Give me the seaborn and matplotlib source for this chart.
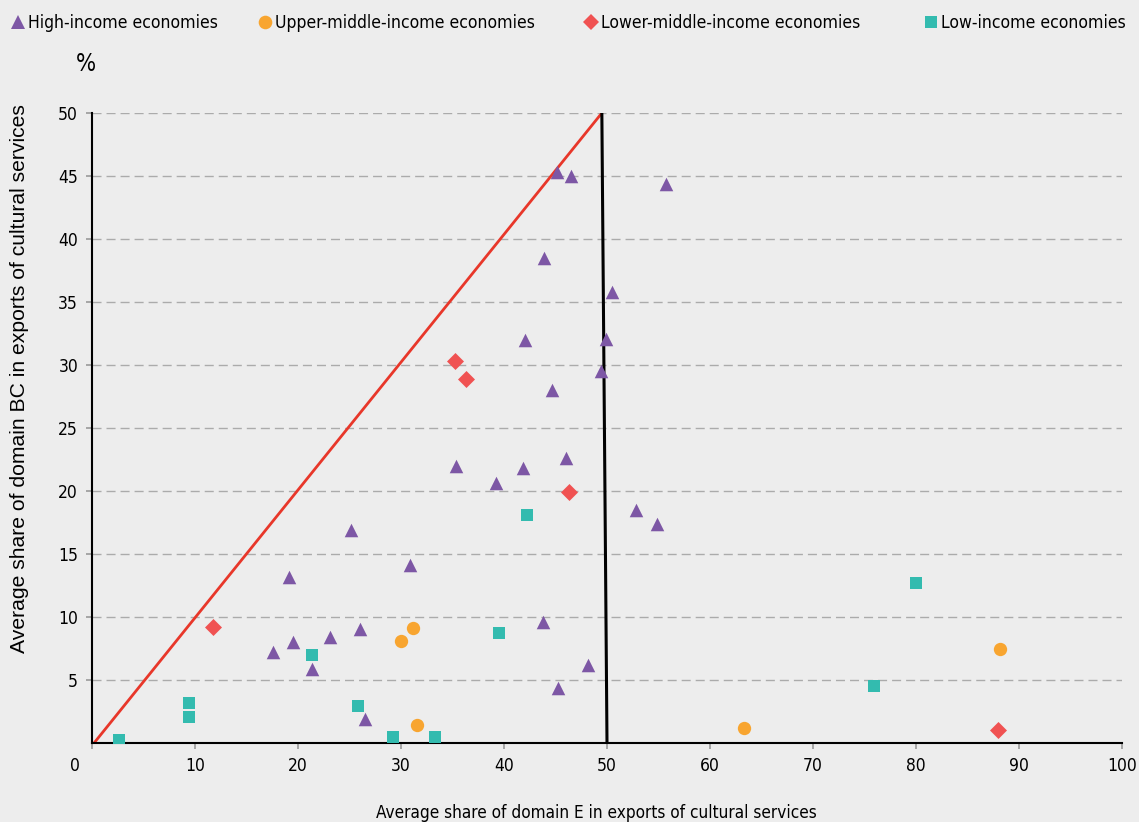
import matplotlib
matplotlib.use('Agg')
import matplotlib.pyplot as plt
from matplotlib import font_manager as fm
import seaborn as sns
from matplotlib.lines import Line2D

# ---------------- data ----------------
high_x = [45.1, 46.5, 55.7, 43.9, 50.5, 42.0, 49.9, 49.4, 44.7, 35.3, 46.0, 39.2, 41.8,
          52.8, 54.9, 25.1, 30.9, 19.1, 17.6, 19.5, 23.1, 26.0, 21.4, 26.5, 43.8, 48.2, 45.2]
high_y = [45.3, 45.0, 44.4, 38.5, 35.8, 32.0, 32.1, 29.5, 28.0, 22.0, 22.6, 20.6, 21.8,
          18.5, 17.4, 16.9, 14.1, 13.2, 7.2, 8.0, 8.4, 9.05, 5.9, 1.9, 9.6, 6.2, 4.4]
upper_x = [30.0, 31.2, 31.6, 63.3, 88.2]
upper_y = [8.1, 9.1, 1.4, 1.2, 7.5]
lower_x = [11.7, 35.2, 36.3, 46.3, 88.0]
lower_y = [9.2, 30.3, 28.9, 19.9, 1.05]
low_x = [2.6, 9.4, 9.4, 21.4, 25.8, 29.2, 33.3, 39.5, 42.2, 75.9, 80.0]
low_y = [0.2, 3.2, 2.1, 7.0, 2.9, 0.5, 0.5, 8.7, 18.1, 4.5, 12.7]

diag_x = [0.2, 49.5]
diag_y = [0.0, 50.0]
vert_x = [49.5, 50.0]
vert_y = [50.0, 0.0]

group_labels = ["High-income economies", "Upper-middle-income economies",
                "Lower-middle-income economies", "Low-income economies"]
x_ticks = [0, 10, 20, 30, 40, 50, 60, 70, 80, 90, 100]
y_ticks = [5, 10, 15, 20, 25, 30, 35, 40, 45, 50]
x_label = "Average share of domain E in exports of cultural services"
y_label = "Average share of domain BC in exports of cultural services"

# ---------------- style ----------------
sns.set_theme(style='white')
plt.rcParams['font.family'] = ['DejaVu Sans']
plt.rcParams['font.stretch'] = 'condensed'
plt.rcParams['text.color'] = 'black'
plt.rcParams['lines.scale_dashes'] = False

BG = '#EDEDED'
C_HIGH = '#7D57A5'
C_UPPER = '#F8A530'
C_LOWER = '#F05252'
C_LOW = '#33BBAF'

fig = plt.figure(figsize=(11.39, 8.22), dpi=100, facecolor=BG)
ax = fig.add_axes([92 / 1139, 1 - 743 / 822, 1030 / 1139, 630 / 822])
ax.set_facecolor(BG)

# reference lines
sns.lineplot(x=diag_x, y=diag_y, sort=False, estimator=None, color='#E8372A', lw=2.0, ax=ax, zorder=2)
sns.lineplot(x=vert_x, y=vert_y, sort=False, estimator=None, color='black', lw=2.2, ax=ax, zorder=2)

# scatter groups
sns.scatterplot(x=high_x, y=high_y, marker='^', s=95, color=C_HIGH, linewidth=0, ax=ax, zorder=3)
sns.scatterplot(x=upper_x, y=upper_y, marker='o', s=92, color=C_UPPER, linewidth=0, ax=ax, zorder=3)
sns.scatterplot(x=lower_x, y=lower_y, marker='D', s=75, color=C_LOWER, linewidth=0, ax=ax, zorder=3)
sns.scatterplot(x=low_x, y=low_y, marker='s', s=80, color=C_LOW, linewidth=0, ax=ax, zorder=3)

ax.set_xlim(0, 100)
ax.set_ylim(0, 50)

# grid
ax.set_axisbelow(True)
ax.yaxis.grid(True, linestyle=(0, (6.5, 3.6)), color='#ABABAB', lw=1.0)
ax.xaxis.grid(False)

# spines
for s in ['top', 'right']:
    ax.spines[s].set_visible(False)
for s in ['left', 'bottom']:
    ax.spines[s].set_color('black')
    ax.spines[s].set_linewidth(1.5)

ax.set_xticks(x_ticks)
ax.set_xticklabels([''] + [str(v) for v in x_ticks[1:]])
ax.set_yticks(y_ticks)
ax.set_yticklabels([str(v) for v in y_ticks])
ax.tick_params(axis='x', direction='out', length=4, width=1.2, color='#999999', pad=6,
               labelsize=12.5, labelcolor='black', bottom=True)
ax.tick_params(axis='y', direction='out', length=4, width=1.2, color='#999999', pad=6,
               labelsize=12.5, labelcolor='black', left=True)

fig.text(75 / 1139, 1 - 766 / 822, '0', ha='center', va='center', fontsize=12.5, color='black')
fig.text(86 / 1139, 1 - 64 / 822, '%', ha='center', va='center', fontsize=17, color='black')

xl = ax.set_xlabel(x_label, fontsize=12.4, color='black')
ax.xaxis.set_label_coords(0.49, -(804 - 743) / 630)
yl = ax.set_ylabel(y_label, fontsize=13, color='black', family='Liberation Sans', stretch='normal')
ax.yaxis.set_label_coords((29 - 92) / 1030, (743 - 379) / 630)

# legend entries placed individually
handles = [
    Line2D([], [], marker='^', color=C_HIGH, linestyle='None', markersize=10, markeredgewidth=0),
    Line2D([], [], marker='o', color=C_UPPER, linestyle='None', markersize=9.8, markeredgewidth=0),
    Line2D([], [], marker='D', color=C_LOWER, linestyle='None', markersize=8.5, markeredgewidth=0),
    Line2D([], [], marker='s', color=C_LOW, linestyle='None', markersize=8.3, markeredgewidth=0),
]
lefts = [10.6, 257.6, 583.6, 923.6]
legs = []
for h, lab, lx in zip(handles, group_labels, lefts):
    lg = fig.legend(handles=[h], labels=[lab], loc='center left',
                    bbox_to_anchor=(lx / 1139, 1 - 23 / 822), frameon=False,
                    borderpad=0, borderaxespad=0, handlelength=0.8, handletextpad=0.15,
                    fontsize=13.3)
    legs.append(lg)

# fit text lengths to the reference widths
fig.canvas.draw()
r = fig.canvas.get_renderer()
def fit(t, target, vertical=False):
    bb = t.get_window_extent(r)
    cur = bb.height if vertical else bb.width
    if cur > 0:
        t.set_fontsize(t.get_fontsize() * target / cur)

fit(yl, 548, vertical=True)
fit(xl, 443)
targets = [188, 260, 261, 185]
ratios = []
for lg, tw in zip(legs, targets):
    t = lg.get_texts()[0]
    ratios.append(tw / t.get_window_extent(r).width)
ratio = sum(ratios) / len(ratios)
for lg in legs:
    t = lg.get_texts()[0]
    t.set_fontsize(t.get_fontsize() * ratio)

fig.savefig('out.png', dpi=100, facecolor=BG)
